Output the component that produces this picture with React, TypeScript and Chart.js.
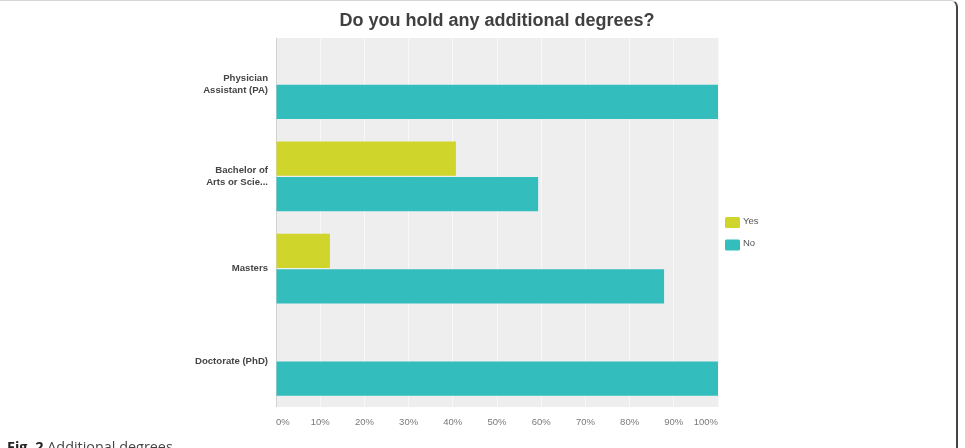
import React, { useEffect, useRef } from "react";
import { Chart, registerables } from "chart.js";

Chart.register(...registerables);

const categories: (string | string[])[] = [
  ["Physician", "Assistant (PA)"],
  ["Bachelor of", "Arts or Scie..."],
  "Masters",
  "Doctorate (PhD)",
];
const seriesNames = ["Yes", "No"];
const yesValues = [0, 40.7, 12.2, 0];
const noValues = [100, 59.3, 87.8, 100];
const xTickStep = 10;
const xMax = 100;
const titleText = "Do you hold any additional degrees?";

const FONT = "'Liberation Sans', Arial, Helvetica, sans-serif";
const YES_COLOR = "#cfd52a";
const NO_COLOR = "#33bdbd";

const bgPlugin = {
  id: "plotBg",
  beforeDraw(chart: any) {
    const { ctx, chartArea } = chart;
    ctx.save();
    ctx.fillStyle = "#eeeeee";
    ctx.fillRect(chartArea.left, chartArea.top, chartArea.right - chartArea.left, chartArea.bottom - chartArea.top);
    ctx.restore();
  },
};

const legendPlugin = {
  id: "sideLegend",
  afterDraw(chart: any) {
    const { ctx, chartArea } = chart;
    const mid = (chartArea.top + chartArea.bottom) / 2;
    const x = chartArea.right + 7;
    ctx.save();
    chart.data.datasets.forEach((ds: any, i: number) => {
      const cy = mid + i * 22.5;
      ctx.fillStyle = ds.backgroundColor;
      ctx.beginPath();
      if ((ctx as any).roundRect) (ctx as any).roundRect(x, cy - 5.5, 15, 11, 1.5);
      else ctx.rect(x, cy - 5.5, 15, 11);
      ctx.fill();
      ctx.fillStyle = "#555555";
      ctx.font = `9.5px ${FONT}`;
      ctx.textBaseline = "middle";
      ctx.textAlign = "left";
      ctx.fillText(ds.label, x + 18, cy - 1.5);
    });
    ctx.restore();
  },
};

export default function App() {
  const canvasRef = useRef<HTMLCanvasElement>(null);

  useEffect(() => {
    if (!canvasRef.current) return;
    const chart = new Chart(canvasRef.current, {
      type: "bar",
      data: {
        labels: categories as any,
        datasets: [
          {
            label: seriesNames[0],
            data: yesValues,
            backgroundColor: YES_COLOR,
            categoryPercentage: 0.77,
            barPercentage: 0.96,
          },
          {
            label: seriesNames[1],
            data: noValues,
            backgroundColor: NO_COLOR,
            categoryPercentage: 0.77,
            barPercentage: 0.96,
          },
        ],
      },
      options: {
        indexAxis: "y",
        animation: false,
        responsive: false,
        maintainAspectRatio: false,
        layout: { padding: { left: 0, right: 247, top: 0, bottom: 0 } },
        plugins: {
          legend: { display: false },
          tooltip: { enabled: false },
          title: {
            display: true,
            text: titleText,
            fullSize: false,
            color: "#404040",
            font: { family: FONT, size: 18, weight: "bold", lineHeight: 1.2 },
            padding: { top: 10, bottom: 6.4 },
          },
        },
        scales: {
          x: {
            min: 0,
            max: xMax,
            grid: {
              color: (c: any) => (c.index === 0 ? "#d2d2d2" : "#f8f8f8"),
              lineWidth: 1,
              drawTicks: false,
            },
            border: { display: false },
            ticks: {
              stepSize: xTickStep,
              align: "inner",
              padding: 10,
              color: "#7a7a7a",
              font: { family: FONT, size: 9.5 },
              callback: (v: any) => `${v}%`,
            },
            afterFit: (scale: any) => {
              scale.height = 41;
            },
          },
          y: {
            grid: { display: false, drawTicks: false },
            border: { display: false },
            ticks: {
              padding: 8,
              color: "#454545",
              font: { family: FONT, size: 9.6, weight: "bold", lineHeight: 1.25 },
            },
            afterFit: (scale: any) => {
              scale.width = 276;
            },
          },
        },
      },
      plugins: [bgPlugin, legendPlugin],
    });
    return () => chart.destroy();
  }, []);

  return (
    <div
      style={{
        position: "fixed",
        left: 0,
        top: 0,
        width: 965,
        height: 448,
        background: "#ffffff",
        overflow: "hidden",
      }}
    >
      <canvas ref={canvasRef} width={965} height={448} style={{ position: "absolute", left: 0, top: 0 }} />
      <div
        style={{
          position: "absolute",
          left: -10,
          top: 0,
          width: 966,
          height: 470,
          borderTop: "1px solid #d6d6d6",
          borderRight: "2px solid #444444",
          borderTopRightRadius: 7,
          boxSizing: "content-box",
        }}
      />
      <div
        style={{
          position: "absolute",
          left: 7,
          top: 437,
          fontFamily: "'Open Sans', sans-serif",
          fontSize: 14.4,
          color: "#444444",
          whiteSpace: "nowrap",
        }}
      >
        <b style={{ color: "#222222" }}>Fig. 2</b> Additional degrees
      </div>
    </div>
  );
}
